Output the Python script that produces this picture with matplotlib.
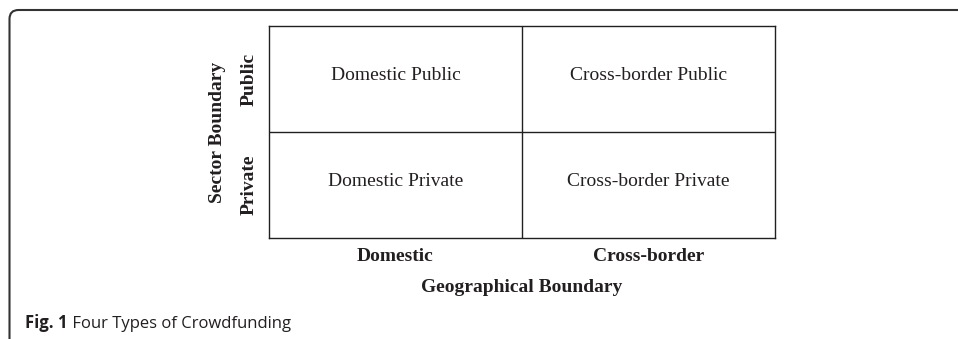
import matplotlib
matplotlib.use("Agg")
import matplotlib.pyplot as plt
from matplotlib.patches import FancyBboxPatch

# 2x2 typology
col_labels = ["Domestic", "Cross-border"]
row_labels = ["Private", "Public"]          # bottom to top
cell_labels = [["Domestic Private", "Cross-border Private"],
               ["Domestic Public", "Cross-border Public"]]
x_title = "Geographical Boundary"
y_title = "Sector Boundary"
caption_bold = "Fig. 1"
caption_rest = " Four Types of Crowdfunding"

ink = "#231f20"
serif = ["Liberation Serif", "DejaVu Serif"]

fig = plt.figure(figsize=(9.58, 3.39), dpi=100)

# outer panel frame (rounded top-left corner, open to right and bottom)
frame = FancyBboxPatch((0.095, -1.0), 11.0, 3.29 + 1.0,
                       boxstyle="round,pad=0,rounding_size=0.09",
                       transform=fig.dpi_scale_trans, fill=False,
                       edgecolor="#333333", linewidth=1.5)
fig.patches.append(frame)

ax = fig.add_axes([269 / 958, 1 - 238 / 339, 506 / 958, 212 / 339])
ax.set_xlim(0, 2)
ax.set_ylim(0, 2)
for s in ax.spines.values():
    s.set_color(ink)
    s.set_linewidth(1.0)
ax.axvline(1, color=ink, lw=1.0)
ax.axhline(1, color=ink, lw=1.0)

for r in range(2):
    for c in range(2):
        ax.text(c + 0.5, r + 0.5 + 0.035, cell_labels[r][c], ha="center", va="center",
                fontsize=14, family=serif, color=ink)

ax.set_xticks([0.5, 1.5])
ax.set_xticklabels(col_labels, fontsize=14, fontweight="bold", family=serif, color=ink)
ax.set_yticks([0.5, 1.5])
ax.set_yticklabels(row_labels, fontsize=14, fontweight="bold", family=serif, color=ink,
                   rotation=90, va="center")
ax.tick_params(axis="x", length=0, pad=7)
ax.tick_params(axis="y", length=0, pad=8)
ax.set_xlabel(x_title, fontsize=14, fontweight="bold", family=serif, color=ink, labelpad=10.5)
ax.set_ylabel(y_title, fontsize=14, fontweight="bold", family=serif, color=ink, labelpad=11)

t1 = fig.text(25 / 958, 1 - 328 / 339, caption_bold, fontsize=12, fontweight="bold",
              family="Open Sans", color=ink, va="baseline")
ax.annotate(caption_rest, xy=(1, 0), xycoords=t1, va="bottom", ha="left",
            fontsize=12, family="Open Sans", color=ink, annotation_clip=False)

fig.savefig("out.png", dpi=100)
